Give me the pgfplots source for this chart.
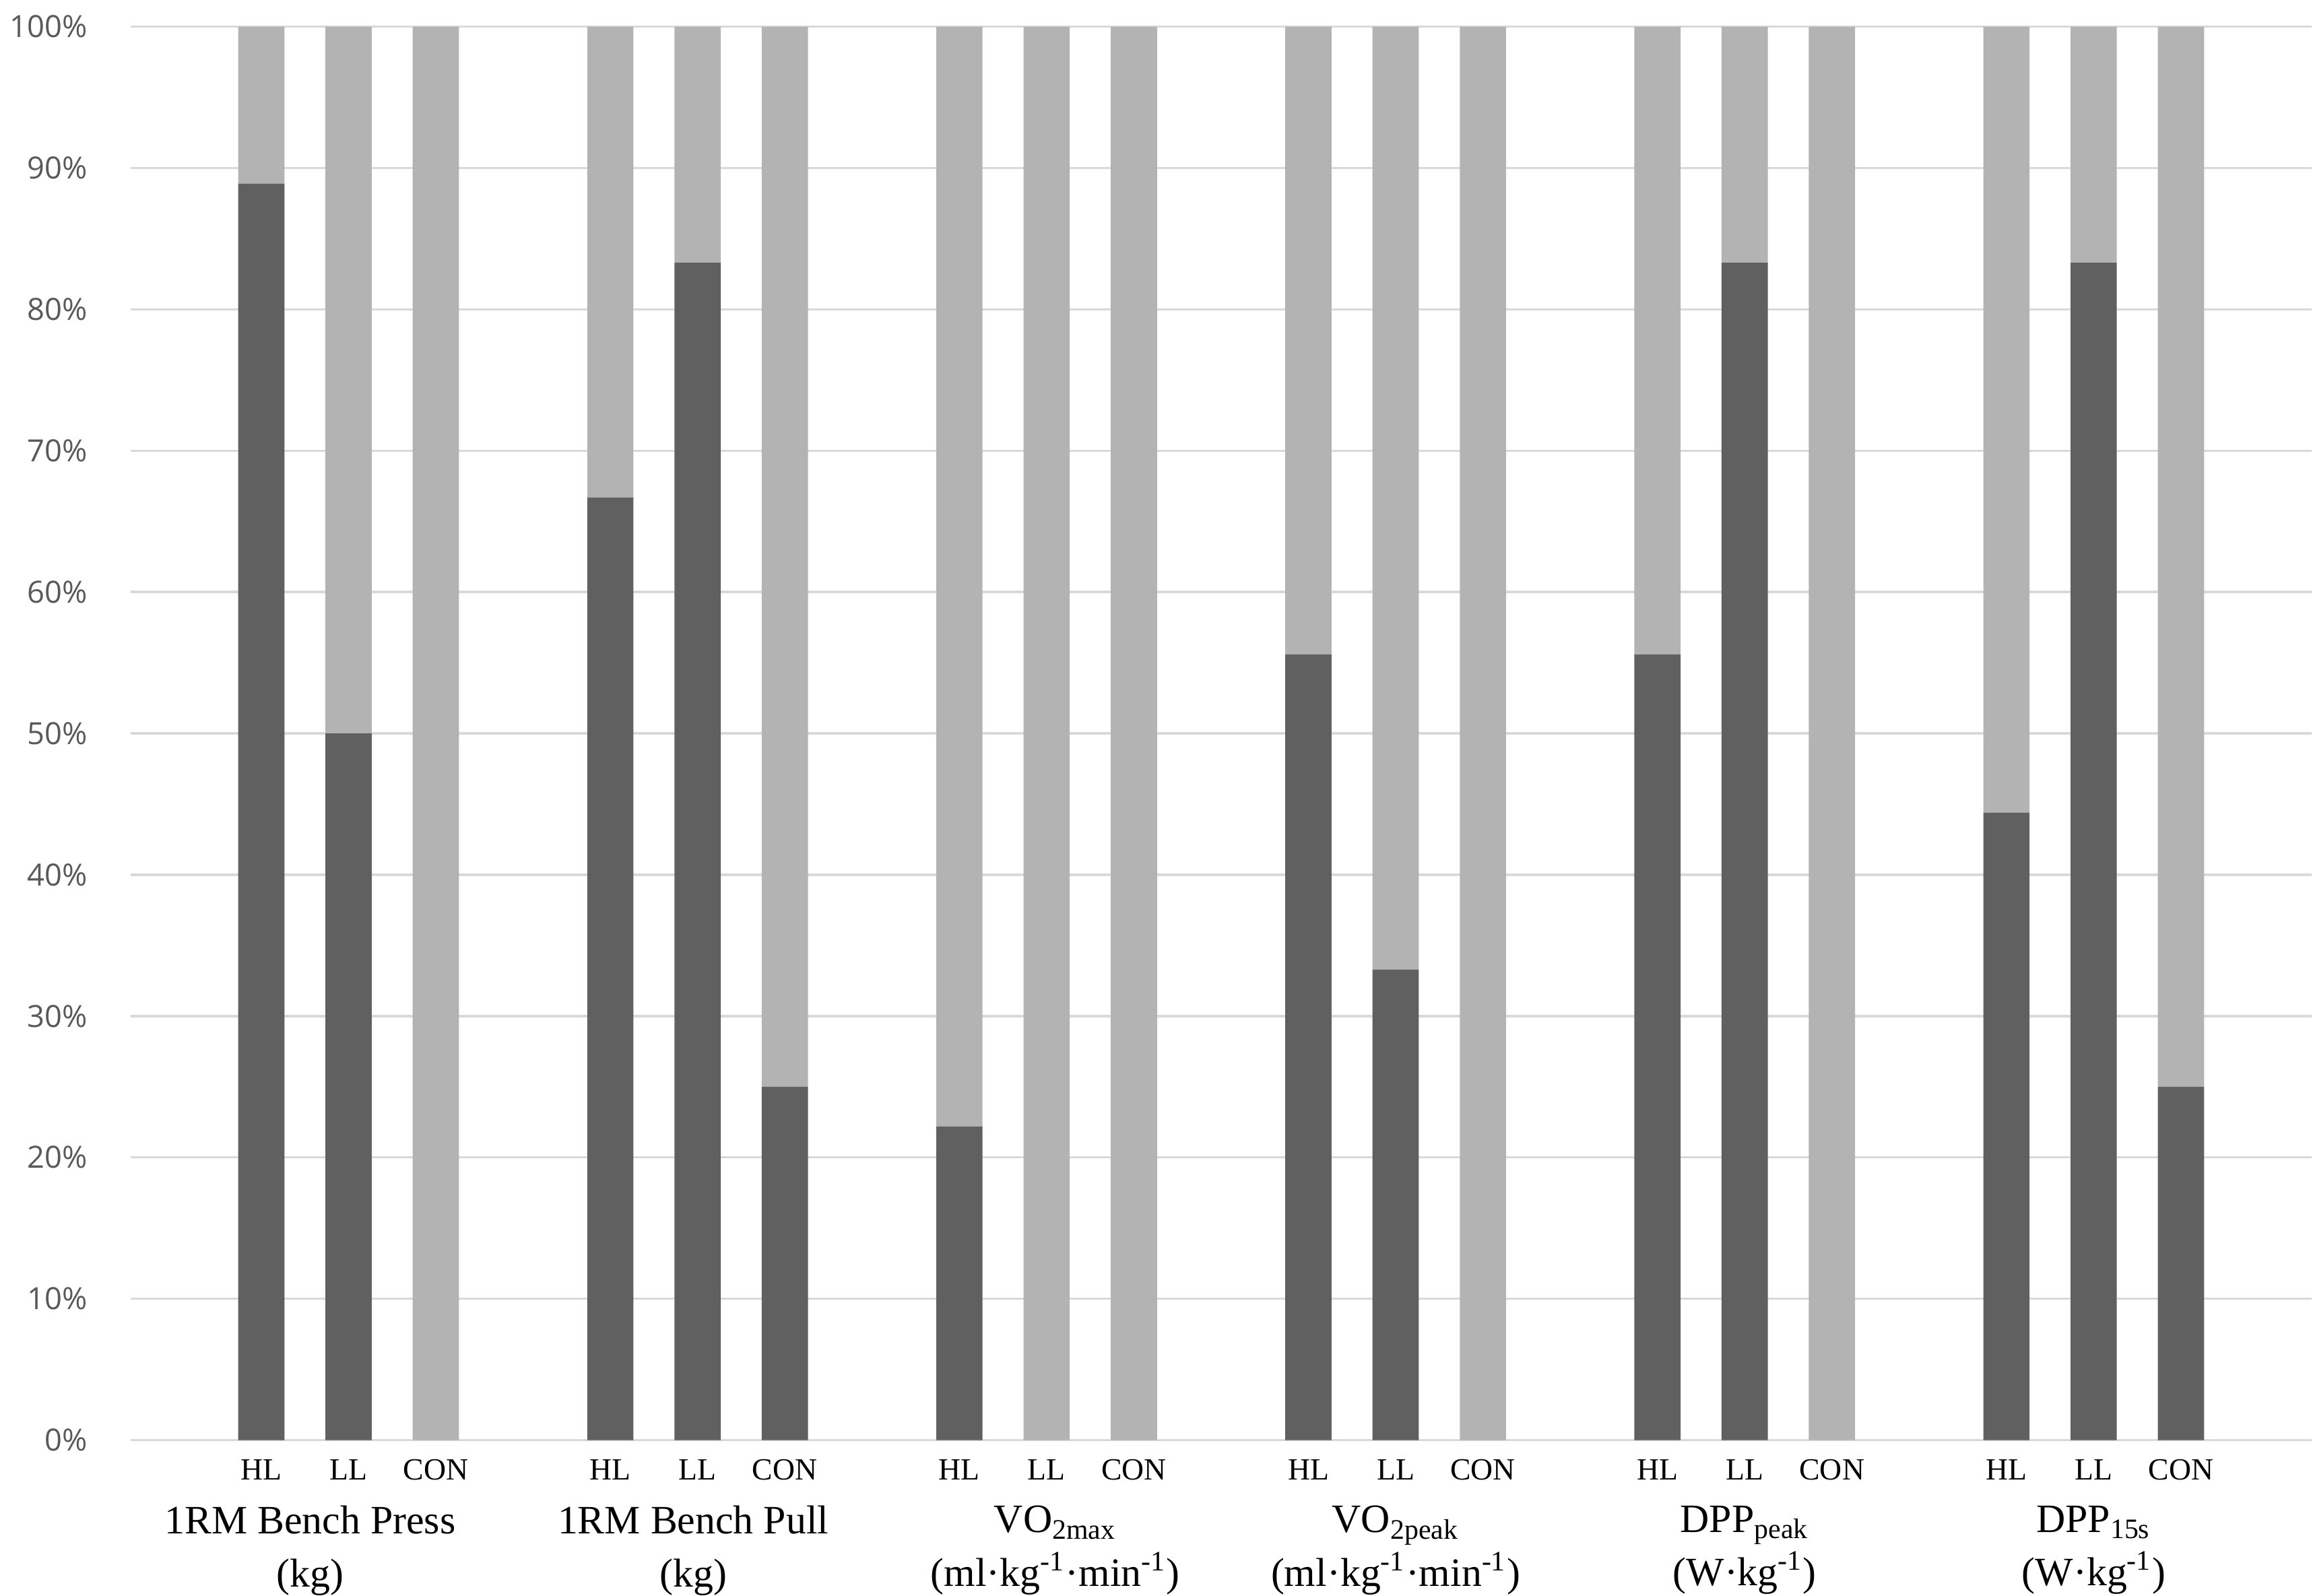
\documentclass[border=0pt]{standalone}
\usepackage{pgfplots}
\pgfplotsset{compat=1.18}
\usepackage{fontspec}
\setmainfont{Liberation Serif}
\newfontfamily\tickfont{Open Sans}
\definecolor{darkbar}{HTML}{606060}
\definecolor{lightbar}{HTML}{B3B3B3}
\definecolor{gridc}{HTML}{D9D9D9}
\definecolor{ticktext}{HTML}{595959}

\begin{document}
\begin{tikzpicture}
\begin{axis}[
    scale only axis,
    width=736pt, height=477pt,
    ybar stacked, bar width=0.53,
    xmin=-0.5, xmax=24.5, ymin=0, ymax=100,
    axis line style={draw=none},
    major tick length=0pt,
    ytick={0,10,...,100},
    yticklabel={\pgfmathprintnumber{\tick}\%},
    ymajorgrids,
    grid style={gridc, line width=0.8pt},
    xtick={1,2,3,5,6,7,9,10,11,13,14,15,17,18,19,21,22,23},
    xticklabels={HL,LL,CON,HL,LL,CON,HL,LL,CON,HL,LL,CON,HL,LL,CON,HL,LL,CON},
    xticklabel style={font=\fontsize{10.4}{12}\selectfont, yshift=-3pt},
    yticklabel style={font=\tickfont\fontsize{10.3}{12}\selectfont, text=ticktext, xshift=-11pt},
    /pgf/number format/assume math mode=true,
    clip=false,
]
% share of participants (dark) and remainder (light)
\addplot[fill=darkbar, draw=none] coordinates {
    (1,88.9) (2,50.0) (3,0)
    (5,66.7) (6,83.3) (7,25.0)
    (9,22.2) (10,0) (11,0)
    (13,55.6) (14,33.3) (15,0)
    (17,55.6) (18,83.3) (19,0)
    (21,44.4) (22,83.3) (23,25.0)
};
\addplot[fill=lightbar, draw=none] coordinates {
    (1,11.1) (2,50.0) (3,100)
    (5,33.3) (6,16.7) (7,75.0)
    (9,77.8) (10,100) (11,100)
    (13,44.4) (14,66.7) (15,100)
    (17,44.4) (18,16.7) (19,100)
    (21,55.6) (22,16.7) (23,75.0)
};
\tikzset{grp/.style={anchor=north, align=center, inner sep=0pt, yshift=-22pt,
    font=\fontsize{13.6}{18}\selectfont}}
\node[grp] at (axis cs:1.56,0) {1RM Bench Press\\(kg)};
\node[grp] at (axis cs:5.95,0) {1RM Bench Pull\\(kg)};
\node[grp] at (axis cs:10.1,0) {VO\textsubscript{2max}\\(ml·kg\textsuperscript{-1}·min\textsuperscript{-1})};
\node[grp] at (axis cs:14.0,0) {VO\textsubscript{2peak}\\(ml·kg\textsuperscript{-1}·min\textsuperscript{-1})};
\node[grp] at (axis cs:18.0,0) {DPP\textsubscript{peak}\\(W·kg\textsuperscript{-1})};
\node[grp] at (axis cs:22.0,0) {DPP\textsubscript{15s}\\(W·kg\textsuperscript{-1})};
% a little white room above the top gridline, as in the reference
\path (rel axis cs:0,1) ++(0,9pt) coordinate (topspace);
\end{axis}
\end{tikzpicture}
\end{document}
